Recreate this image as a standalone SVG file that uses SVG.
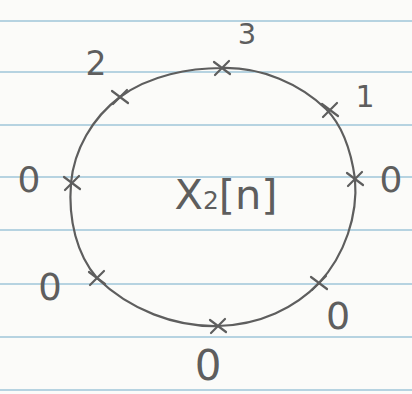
<svg xmlns="http://www.w3.org/2000/svg" width="412" height="394" viewBox="0 0 412 394">
  <style>
    .rule { stroke: #9fc6d9; stroke-width: 1.6; }
    .pencil { fill: none; stroke: #5e5e5e; stroke-width: 2.2; stroke-linecap: round; stroke-linejoin: round; }
    .lbl { font-family: "DejaVu Sans", "Liberation Sans", sans-serif; fill: #5e5e5e; text-anchor: middle; }
  </style>
  <defs>
    <path id="tick" d="M-8,-6 L8,6 M-7,7 L7,-7" class="pencil"/>
  </defs>
  <rect width="412" height="394" fill="#fbfbf9"/>
  <g id="paper-lines">
    <line class="rule" x1="0" y1="21" x2="412" y2="21"/>
    <line class="rule" x1="0" y1="72" x2="412" y2="72"/>
    <line class="rule" x1="0" y1="125" x2="412" y2="125"/>
    <line class="rule" x1="0" y1="177" x2="412" y2="177"/>
    <line class="rule" x1="0" y1="230" x2="412" y2="230"/>
    <line class="rule" x1="0" y1="284" x2="412" y2="284"/>
    <line class="rule" x1="0" y1="337" x2="412" y2="337"/>
    <line class="rule" x1="0" y1="390" x2="412" y2="390"/>
  </g>
  <g id="connectors">
    <path class="pencil" d="M222,68 C262,67 300,84 326,109 C342,125 351,150 355,179 C358,215 345,255 319,283 C295,308 260,325 218,326 C175,327 130,310 97,278 C77,255 68,220 71,183 C74,150 92,118 120,97 C150,75 190,68 222,68 Z"/>
  </g>
  <g id="title">
    <text class="lbl" x="226" y="209" font-size="40" textLength="103" lengthAdjust="spacingAndGlyphs">X<tspan font-size="24">2</tspan>[n]</text>
  </g>
  <g id="n0">
    <use href="#tick" x="355" y="179"/>
    <text class="lbl" x="391" y="192" font-size="36">0</text>
  </g>
  <g id="n1">
    <use href="#tick" x="330" y="110"/>
    <text class="lbl" x="365" y="107" font-size="30">1</text>
  </g>
  <g id="n2">
    <use href="#tick" x="222" y="68"/>
    <text class="lbl" x="247" y="44" font-size="29">3</text>
  </g>
  <g id="n3">
    <use href="#tick" x="120" y="97"/>
    <text class="lbl" x="96" y="75" font-size="33">2</text>
  </g>
  <g id="n4">
    <use href="#tick" x="72" y="183"/>
    <text class="lbl" x="29" y="192" font-size="36">0</text>
  </g>
  <g id="n5">
    <use href="#tick" x="97" y="278"/>
    <text class="lbl" x="50" y="300" font-size="37">0</text>
  </g>
  <g id="n6">
    <use href="#tick" x="218" y="326"/>
    <text class="lbl" x="208" y="380" font-size="42">0</text>
  </g>
  <g id="n7">
    <use href="#tick" x="319" y="283"/>
    <text class="lbl" x="338" y="329" font-size="38">0</text>
  </g>
</svg>
